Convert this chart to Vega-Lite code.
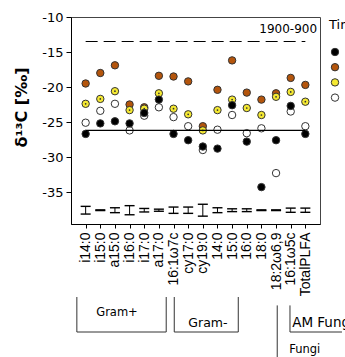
{
  "$schema": "https://vega.github.io/schema/vega-lite/v6.json",
  "autosize": {"type": "none"},
  "width": 249,
  "height": 207,
  "padding": {"left": 71, "top": 17, "right": 25, "bottom": 133},
  "background": "white",
  "config": {
    "font": "DejaVu Sans",
    "view": {"stroke": "#444", "strokeWidth": 1},
    "axis": {"grid": false, "domainColor": "#000", "tickColor": "#000", "labelColor": "#000", "titleColor": "#000", "labelFont": "DejaVu Sans", "titleFont": "DejaVu Sans"}
  },
  "datasets": {
    "points": [
      {"cat": "i14:0", "series": "T2", "val": -19.5},
      {"cat": "i15:0", "series": "T2", "val": -18.0},
      {"cat": "a15:0", "series": "T2", "val": -16.9},
      {"cat": "i16:0", "series": "T2", "val": -22.5},
      {"cat": "i17:0", "series": "T2", "val": -22.9},
      {"cat": "a17:0", "series": "T2", "val": -18.4},
      {"cat": "16:1ω7c", "series": "T2", "val": -18.5},
      {"cat": "cy17:0", "series": "T2", "val": -19.2},
      {"cat": "cy19:0", "series": "T2", "val": -25.6},
      {"cat": "14:0", "series": "T2", "val": -20.4},
      {"cat": "15:0", "series": "T2", "val": -16.2},
      {"cat": "16:0", "series": "T2", "val": -20.8},
      {"cat": "18:0", "series": "T2", "val": -21.8},
      {"cat": "18:2ω6,9", "series": "T2", "val": -20.9},
      {"cat": "16:1ω5c", "series": "T2", "val": -18.7},
      {"cat": "TotalPLFA", "series": "T2", "val": -19.7},
      {"cat": "i14:0", "series": "T3", "val": -22.4},
      {"cat": "i15:0", "series": "T3", "val": -21.7},
      {"cat": "a15:0", "series": "T3", "val": -20.6},
      {"cat": "i16:0", "series": "T3", "val": -23.3},
      {"cat": "i17:0", "series": "T3", "val": -23.1},
      {"cat": "a17:0", "series": "T3", "val": -20.9},
      {"cat": "16:1ω7c", "series": "T3", "val": -23.1},
      {"cat": "cy17:0", "series": "T3", "val": -23.9},
      {"cat": "cy19:0", "series": "T3", "val": -26.2},
      {"cat": "14:0", "series": "T3", "val": -23.3},
      {"cat": "15:0", "series": "T3", "val": -21.8},
      {"cat": "16:0", "series": "T3", "val": -23.0},
      {"cat": "18:0", "series": "T3", "val": -24.0},
      {"cat": "18:2ω6,9", "series": "T3", "val": -21.4},
      {"cat": "16:1ω5c", "series": "T3", "val": -20.7},
      {"cat": "TotalPLFA", "series": "T3", "val": -22.1},
      {"cat": "i14:0", "series": "T4", "val": -25.1},
      {"cat": "i15:0", "series": "T4", "val": -23.4},
      {"cat": "a15:0", "series": "T4", "val": -22.4},
      {"cat": "i16:0", "series": "T4", "val": -26.2},
      {"cat": "i17:0", "series": "T4", "val": -24.1},
      {"cat": "a17:0", "series": "T4", "val": -22.9},
      {"cat": "16:1ω7c", "series": "T4", "val": -24.3},
      {"cat": "cy17:0", "series": "T4", "val": -25.6},
      {"cat": "cy19:0", "series": "T4", "val": -29.0},
      {"cat": "14:0", "series": "T4", "val": -26.1},
      {"cat": "15:0", "series": "T4", "val": -24.0},
      {"cat": "16:0", "series": "T4", "val": -26.6},
      {"cat": "18:0", "series": "T4", "val": -25.9},
      {"cat": "18:2ω6,9", "series": "T4", "val": -32.3},
      {"cat": "16:1ω5c", "series": "T4", "val": -23.5},
      {"cat": "TotalPLFA", "series": "T4", "val": -25.6},
      {"cat": "i14:0", "series": "T1", "val": -26.7},
      {"cat": "i15:0", "series": "T1", "val": -25.2},
      {"cat": "a15:0", "series": "T1", "val": -24.9},
      {"cat": "i16:0", "series": "T1", "val": -25.2},
      {"cat": "i17:0", "series": "T1", "val": -23.7},
      {"cat": "a17:0", "series": "T1", "val": -21.8},
      {"cat": "16:1ω7c", "series": "T1", "val": -26.7},
      {"cat": "cy17:0", "series": "T1", "val": -27.6},
      {"cat": "cy19:0", "series": "T1", "val": -28.5},
      {"cat": "14:0", "series": "T1", "val": -28.8},
      {"cat": "15:0", "series": "T1", "val": -22.6},
      {"cat": "16:0", "series": "T1", "val": -27.8},
      {"cat": "18:0", "series": "T1", "val": -34.3},
      {"cat": "18:2ω6,9", "series": "T1", "val": -27.6},
      {"cat": "16:1ω5c", "series": "T1", "val": -22.7},
      {"cat": "TotalPLFA", "series": "T1", "val": -26.7}
    ],
    "errs": [
      {"cat": "i14:0", "lo": -38.15, "hi": -37.05},
      {"cat": "i15:0", "lo": -37.65, "hi": -37.55},
      {"cat": "a15:0", "lo": -37.95, "hi": -37.25},
      {"cat": "i16:0", "lo": -38.25, "hi": -36.95},
      {"cat": "i17:0", "lo": -37.85, "hi": -37.35},
      {"cat": "a17:0", "lo": -37.75, "hi": -37.45},
      {"cat": "16:1ω7c", "lo": -38.05, "hi": -37.15},
      {"cat": "cy17:0", "lo": -38.05, "hi": -37.15},
      {"cat": "cy19:0", "lo": -38.45, "hi": -36.75},
      {"cat": "14:0", "lo": -37.95, "hi": -37.25},
      {"cat": "15:0", "lo": -37.8, "hi": -37.4},
      {"cat": "16:0", "lo": -37.8, "hi": -37.4},
      {"cat": "18:0", "lo": -37.65, "hi": -37.55},
      {"cat": "18:2ω6,9", "lo": -37.65, "hi": -37.55},
      {"cat": "16:1ω5c", "lo": -37.9, "hi": -37.3},
      {"cat": "TotalPLFA", "lo": -37.9, "hi": -37.3}
    ],
    "dashedLine": [{"x1": 1, "x2": 16, "y": -13.5}],
    "meanLine": [{"x1": 1, "x2": 16, "y": -26.2}],
    "brackets": [
      {"group": "Gram+", "x1": 0.4, "x2": 0.4, "y1": -50, "y2": -55},
      {"group": "Gram+", "x1": 0.4, "x2": 6.5, "y1": -55, "y2": -55},
      {"group": "Gram+", "x1": 6.5, "x2": 6.5, "y1": -50, "y2": -55},
      {"group": "Gram-", "x1": 7.05, "x2": 7.05, "y1": -50, "y2": -55},
      {"group": "Gram-", "x1": 7.05, "x2": 11.42, "y1": -55, "y2": -55},
      {"group": "Gram-", "x1": 11.42, "x2": 11.42, "y1": -50, "y2": -55},
      {"group": "Fungi", "x1": 14.08, "x2": 14.08, "y1": -51.2, "y2": -60},
      {"group": "AM Fungi", "x1": 14.95, "x2": 14.95, "y1": -51.2, "y2": -55},
      {"group": "AM Fungi", "x1": 14.95, "x2": 18.5, "y1": -55, "y2": -55}
    ],
    "groupLabels": [
      {"pos": 3.14, "y": -52.7, "label": "Gram+"},
      {"pos": 9.35, "y": -54.3, "label": "Gram-"},
      {"pos": 15.1, "y": -54.3, "label": "AM Fungi"},
      {"pos": 14.9, "y": -58.0, "label": "Fungi"}
    ],
    "rightLabels": [
      {"pos": 16.8, "y": -12.25, "label": "1900-900"}
    ]
  },
  "layer": [
    {
      "layer": [
        {
          "data": {"name": "points"},
          "mark": {"type": "point", "shape": "circle", "filled": true, "size": 55, "stroke": "#333", "strokeWidth": 1, "opacity": 1},
          "encoding": {
            "x": {"field": "cat", "type": "nominal", "sort": ["i14:0","i15:0","a15:0","i16:0","i17:0","a17:0","16:1ω7c","cy17:0","cy19:0","14:0","15:0","16:0","18:0","18:2ω6,9","16:1ω5c","TotalPLFA"], "scale": {"type": "point", "padding": 1},
                  "axis": {"title": null, "labelAngle": 270, "labelFont": "Liberation Sans", "labelFontSize": 14, "tickSize": 4, "labelPadding": 4}},
            "y": {"field": "val", "type": "quantitative", "title": "δ¹³C [‰]", "scale": {"domain": [-39.57, -10], "nice": false, "zero": false},
                  "axis": {"values": [-10, -15, -20, -25, -30, -35], "tickSize": 5, "labelFontSize": 13, "labelPadding": 3, "labelExpr": "replace(datum.label, '\u2212', '-')",
                           "titleFontSize": 16, "titleFontWeight": "bold", "titleX": -50, "titleY": 90, "titleAngle": 270, "titleAlign": "center", "titleBaseline": "middle"}},
            "color": {"field": "series", "type": "nominal",
                      "scale": {"domain": ["T1", "T2", "T3", "T4"], "range": ["#000000", "#B4550C", "#F5E932", "#FFFFFF"]},
                      "legend": {"orient": "none", "legendX": 258, "legendY": 2, "title": "Time", "titleFontSize": 13, "titleFontWeight": "normal", "titleFont": "DejaVu Sans", "titlePadding": 14, "labelFontSize": 12, "labelOffset": 40, "rowPadding": 3.2, "symbolSize": 55, "symbolType": "circle", "symbolStrokeColor": "#333", "symbolStrokeWidth": 1, "padding": 0, "titleColor": "#000"}}
          }
        },
        {
          "data": {"name": "points"},
          "transform": [{"filter": "datum.series == 'T3'"}],
          "mark": {"type": "point", "shape": "circle", "filled": true, "size": 3, "color": "#333", "opacity": 1},
          "encoding": {
            "x": {"field": "cat", "type": "nominal", "sort": ["i14:0","i15:0","a15:0","i16:0","i17:0","a17:0","16:1ω7c","cy17:0","cy19:0","14:0","15:0","16:0","18:0","18:2ω6,9","16:1ω5c","TotalPLFA"]},
            "y": {"field": "val", "type": "quantitative", "title": "δ¹³C [‰]"}
          }
        },
        {
          "data": {"name": "errs"},
          "mark": {"type": "rule", "color": "#000", "strokeWidth": 1},
          "encoding": {
            "x": {"field": "cat", "type": "nominal", "sort": ["i14:0","i15:0","a15:0","i16:0","i17:0","a17:0","16:1ω7c","cy17:0","cy19:0","14:0","15:0","16:0","18:0","18:2ω6,9","16:1ω5c","TotalPLFA"]},
            "y": {"field": "lo", "type": "quantitative", "title": "δ¹³C [‰]"},
            "y2": {"field": "hi"}
          }
        },
        {
          "data": {"name": "errs"},
          "mark": {"type": "tick", "color": "#000", "size": 10, "thickness": 1.4, "opacity": 1},
          "encoding": {
            "x": {"field": "cat", "type": "nominal", "sort": ["i14:0","i15:0","a15:0","i16:0","i17:0","a17:0","16:1ω7c","cy17:0","cy19:0","14:0","15:0","16:0","18:0","18:2ω6,9","16:1ω5c","TotalPLFA"]},
            "y": {"field": "lo", "type": "quantitative", "title": "δ¹³C [‰]"}
          }
        },
        {
          "data": {"name": "errs"},
          "mark": {"type": "tick", "color": "#000", "size": 10, "thickness": 1.4, "opacity": 1},
          "encoding": {
            "x": {"field": "cat", "type": "nominal", "sort": ["i14:0","i15:0","a15:0","i16:0","i17:0","a17:0","16:1ω7c","cy17:0","cy19:0","14:0","15:0","16:0","18:0","18:2ω6,9","16:1ω5c","TotalPLFA"]},
            "y": {"field": "hi", "type": "quantitative", "title": "δ¹³C [‰]"}
          }
        }
      ]
    },
    {
      "layer": [
        {
          "data": {"name": "dashedLine"},
          "mark": {"type": "rule", "color": "#000", "strokeWidth": 1, "strokeDash": [12, 6]},
          "encoding": {
            "x": {"field": "x1", "type": "quantitative", "scale": {"domain": [0, 17], "nice": false, "zero": false}, "axis": null},
            "x2": {"field": "x2"},
            "y": {"field": "y", "type": "quantitative", "title": "δ¹³C [‰]"}
          }
        },
        {
          "data": {"name": "meanLine"},
          "mark": {"type": "rule", "color": "#000", "strokeWidth": 1.2},
          "encoding": {
            "x": {"field": "x1", "type": "quantitative", "scale": {"domain": [0, 17], "nice": false, "zero": false}, "axis": null},
            "x2": {"field": "x2"},
            "y": {"field": "y", "type": "quantitative", "title": "δ¹³C [‰]"}
          }
        },
        {
          "data": {"name": "brackets"},
          "mark": {"type": "rule", "color": "#333", "strokeWidth": 1},
          "encoding": {
            "x": {"field": "x1", "type": "quantitative", "scale": {"domain": [0, 17], "nice": false, "zero": false}, "axis": null},
            "x2": {"field": "x2"},
            "y": {"field": "y1", "type": "quantitative", "title": "δ¹³C [‰]"},
            "y2": {"field": "y2"}
          }
        },
        {
          "data": {"name": "groupLabels"},
          "transform": [{"filter": "datum.label == 'Gram+'"}],
          "mark": {"type": "text", "align": "center", "baseline": "alphabetic", "fontSize": 11.5, "color": "#000"},
          "encoding": {
            "x": {"field": "pos", "type": "quantitative", "scale": {"domain": [0, 17], "nice": false, "zero": false}, "axis": null},
            "y": {"field": "y", "type": "quantitative", "title": "δ¹³C [‰]"},
            "text": {"field": "label"}
          }
        },
        {
          "data": {"name": "groupLabels"},
          "transform": [{"filter": "datum.label == 'Gram-'"}],
          "mark": {"type": "text", "align": "center", "baseline": "alphabetic", "fontSize": 12.5, "color": "#000"},
          "encoding": {
            "x": {"field": "pos", "type": "quantitative", "scale": {"domain": [0, 17], "nice": false, "zero": false}, "axis": null},
            "y": {"field": "y", "type": "quantitative", "title": "δ¹³C [‰]"},
            "text": {"field": "label"}
          }
        },
        {
          "data": {"name": "groupLabels"},
          "transform": [{"filter": "datum.label == 'AM Fungi'"}],
          "mark": {"type": "text", "align": "left", "baseline": "alphabetic", "fontSize": 13.5, "color": "#000"},
          "encoding": {
            "x": {"field": "pos", "type": "quantitative", "scale": {"domain": [0, 17], "nice": false, "zero": false}, "axis": null},
            "y": {"field": "y", "type": "quantitative", "title": "δ¹³C [‰]"},
            "text": {"field": "label"}
          }
        },
        {
          "data": {"name": "groupLabels"},
          "transform": [{"filter": "datum.label == 'Fungi'"}],
          "mark": {"type": "text", "align": "left", "baseline": "alphabetic", "fontSize": 11.5, "color": "#000"},
          "encoding": {
            "x": {"field": "pos", "type": "quantitative", "scale": {"domain": [0, 17], "nice": false, "zero": false}, "axis": null},
            "y": {"field": "y", "type": "quantitative", "title": "δ¹³C [‰]"},
            "text": {"field": "label"}
          }
        },
        {
          "data": {"name": "rightLabels"},
          "mark": {"type": "text", "align": "right", "baseline": "alphabetic", "fontSize": 12, "color": "#000"},
          "encoding": {
            "x": {"field": "pos", "type": "quantitative", "scale": {"domain": [0, 17], "nice": false, "zero": false}, "axis": null},
            "y": {"field": "y", "type": "quantitative", "title": "δ¹³C [‰]"},
            "text": {"field": "label"}
          }
        }
      ]
    }
  ],
  "resolve": {"scale": {"x": "independent"}, "axis": {"x": "independent"}}
}
